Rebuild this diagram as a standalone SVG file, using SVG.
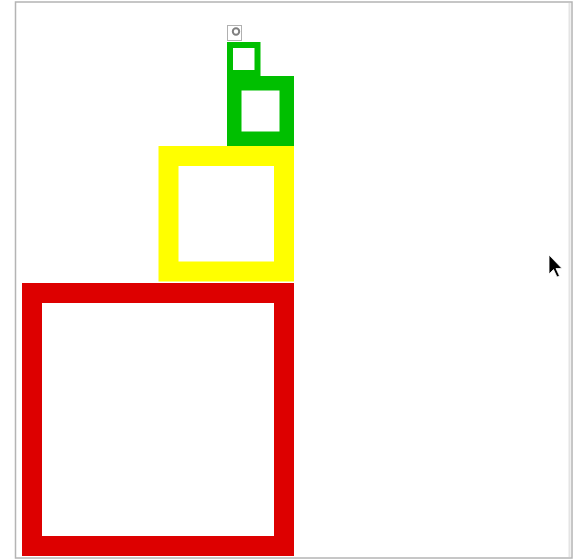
<svg xmlns="http://www.w3.org/2000/svg" width="578" height="560" viewBox="0 0 578 560">
  <style>
    .frame { fill: #ffffff; stroke: #b4b4b4; stroke-width: 1.5; }
    .sq { fill: #ffffff; }
    .red { stroke: #dd0000; }
    .yellow { stroke: #ffff00; }
    .green { stroke: #00bf00; }
  </style>
  <rect width="578" height="560" fill="#ffffff"/>
  <rect class="frame" x="15.5" y="2" width="556.5" height="556"/>
  <line x1="569.5" y1="3" x2="569.5" y2="557" stroke="#e4e4e4" stroke-width="2"/>
  <g id="red-square">
    <rect class="sq red" x="32" y="293" width="252" height="253" stroke-width="20"/>
  </g>
  <g id="yellow-square">
    <rect class="sq yellow" x="168.5" y="156" width="115.5" height="115.5" stroke-width="20"/>
  </g>
  <g id="green-square-large">
    <rect class="sq green" x="234.25" y="83.25" width="52.5" height="55.5" stroke-width="14.5"/>
  </g>
  <g id="green-square-small">
    <rect class="sq green" x="230" y="45" width="27.5" height="28" stroke-width="6"/>
  </g>
  <g id="tiny-square">
    <rect x="227.5" y="25.5" width="14" height="15" fill="#ffffff" stroke="#b0b0b0" stroke-width="1"/>
    <circle cx="236" cy="31.5" r="3.2" fill="none" stroke="#808080" stroke-width="2"/>
  </g>
  <g id="connectors"></g>
  <g id="cursor">
    <polygon points="549,255 549,274 553.5,269.5 557,277 559.5,276 556,268.5 562,268.5" fill="#000000" stroke="#ffffff" stroke-width="0.8"/>
  </g>
</svg>
